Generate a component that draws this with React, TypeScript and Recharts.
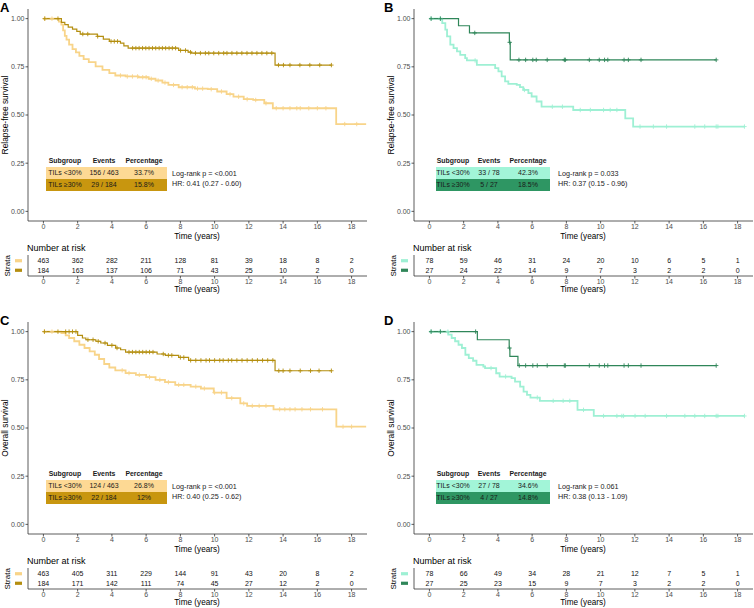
import { ComposedChart, ScatterChart, Line, Scatter, XAxis, YAxis } from 'recharts'

const TIME_TICKS = [0, 2, 4, 6, 8, 10, 12, 14, 16, 18]
const SURV_TICKS = [0, 0.25, 0.5, 0.75, 1]

// Panel A – relapse-free survival, TILs cohort 1
const A_lowT = [0, 0.9, 1.05, 1.15, 1.25, 1.35, 1.5, 1.7, 1.9, 2.1, 2.35, 2.65, 3.05, 3.45, 3.85, 4.2, 4.8, 5.55, 6.15, 6.55, 6.95, 7.3, 7.9, 8.85, 9.6, 10.15, 10.7, 11.1, 11.7, 12.25, 12.9, 13.4, 17.1, 18.85]
const A_lowS = [1, 0.985, 0.969, 0.939, 0.911, 0.891, 0.865, 0.842, 0.825, 0.807, 0.79, 0.774, 0.752, 0.734, 0.717, 0.705, 0.7, 0.696, 0.688, 0.679, 0.668, 0.656, 0.644, 0.637, 0.634, 0.622, 0.608, 0.595, 0.582, 0.578, 0.561, 0.535, 0.453, 0.453]
const A_lowCens = [0.08, 0.5, 4.5, 4.9, 5.2, 5.5, 5.8, 6.0, 6.3, 6.7, 7.1, 7.6, 8.1, 8.4, 8.7, 9.0, 9.3, 9.8, 10.4, 10.9, 11.4, 11.9, 12.4, 13.0, 13.6, 14.0, 14.4, 14.8, 15.0, 15.5, 16.0, 16.5, 17.6, 18.3]
const A_highT = [0, 1.05, 1.25, 1.45, 1.7, 1.95, 2.15, 3.15, 3.5, 3.85, 4.5, 4.7, 4.95, 7.9, 8.45, 8.65, 13.53, 16.82]
const A_highS = [1, 0.981, 0.969, 0.956, 0.946, 0.934, 0.92, 0.908, 0.894, 0.882, 0.873, 0.859, 0.847, 0.835, 0.826, 0.821, 0.759, 0.759]
const A_highCens = [0.08, 0.85, 2.3, 2.59, 3.17, 3.95, 4.14, 4.33, 5.21, 5.4, 5.59, 5.79, 5.98, 6.17, 6.37, 6.56, 6.76, 6.95, 7.14, 7.34, 7.53, 7.72, 8.01, 8.3, 8.59, 8.88, 9.17, 9.46, 9.66, 9.95, 10.24, 10.53, 10.72, 11.01, 11.3, 11.59, 11.89, 12.18, 12.47, 12.76, 13.05, 13.34, 13.73, 14.02, 14.4, 14.98, 15.56, 16.14, 16.82]
const A_riskLow = [463, 362, 282, 211, 128, 81, 39, 18, 8, 2]
const A_riskHigh = [184, 163, 137, 106, 71, 43, 25, 10, 2, 0]
const A_rowLow = ['TILs <30%', '156 / 463', '33.7%']
const A_rowHigh = ['TILs \u226530%', '29 / 184', '15.8%']
const A_stats = ['Log-rank p = <0.001', 'HR: 0.41 (0.27 - 0.60)']

// Panel B – relapse-free survival, cohort 2
const B_lowT = [0, 0.75, 0.93, 1.03, 1.22, 1.41, 1.61, 1.8, 2.09, 2.19, 2.77, 3.84, 4.03, 4.22, 4.42, 4.61, 5.1, 5.29, 5.48, 5.78, 5.97, 6.26, 6.55, 8.4, 11.44, 11.9, 18.4]
const B_lowS = [1, 0.977, 0.943, 0.908, 0.865, 0.847, 0.83, 0.812, 0.795, 0.783, 0.76, 0.743, 0.726, 0.7, 0.674, 0.662, 0.656, 0.645, 0.63, 0.613, 0.596, 0.57, 0.543, 0.526, 0.483, 0.44, 0.44]
const B_lowCens = [0.1, 0.64, 2.67, 5.55, 7.18, 7.77, 8.81, 9.4, 10.17, 10.56, 10.95, 12.3, 13.08, 13.85, 15.5, 16.08, 16.75, 16.85, 18.4]
const B_highT = [0, 1.7, 2.34, 4.67, 4.72, 16.75]
const B_highS = [1, 0.963, 0.926, 0.877, 0.786, 0.786]
const B_highCens = [0.1, 0.64, 2.65, 4.69, 5.23, 5.62, 6.04, 6.24, 6.88, 7.88, 7.94, 9.34, 9.92, 10.23, 10.42, 11.37, 11.62, 12.36, 16.75]
const B_riskLow = [78, 59, 46, 31, 24, 20, 10, 6, 5, 1]
const B_riskHigh = [27, 24, 22, 14, 9, 7, 3, 2, 2, 0]
const B_rowLow = ['TILs <30%', '33 / 78', '42.3%']
const B_rowHigh = ['TILs \u226530%', '5 / 27', '18.5%']
const B_stats = ['Log-rank p = 0.033', 'HR: 0.37 (0.15 - 0.96)']

// Panel C – overall survival, cohort 1
const C_lowT = [0, 1.05, 1.3, 1.5, 1.8, 2.1, 2.4, 2.7, 3.0, 3.25, 3.55, 3.85, 4.2, 4.8, 5.4, 6.0, 6.55, 7.1, 7.7, 8.6, 9.2, 9.95, 10.7, 11.5, 11.9, 13.44, 17.11, 18.85]
const C_lowS = [1, 0.993, 0.981, 0.967, 0.95, 0.932, 0.915, 0.898, 0.88, 0.858, 0.832, 0.814, 0.799, 0.785, 0.776, 0.764, 0.75, 0.738, 0.724, 0.715, 0.705, 0.684, 0.655, 0.628, 0.615, 0.597, 0.507, 0.507]
const C_lowCens = [0.06, 0.5, 4.6, 5.0, 5.6, 6.2, 6.8, 7.3, 7.9, 8.2, 8.9, 9.4, 10.0, 10.4, 11.0, 11.7, 12.2, 12.6, 13.0, 13.8, 14.1, 14.4, 14.7, 15.1, 15.6, 16.3, 17.5, 18.0]
const C_highT = [0, 2.0, 2.28, 2.48, 3.06, 3.35, 3.74, 4.22, 4.51, 4.8, 6.64, 7.12, 7.9, 8.48, 13.53, 16.82]
const C_highS = [1, 0.981, 0.967, 0.958, 0.95, 0.941, 0.929, 0.915, 0.906, 0.894, 0.884, 0.877, 0.866, 0.851, 0.797, 0.797]
const C_highCens = [0.06, 0.85, 1.3, 1.5, 1.7, 1.9, 2.6, 2.9, 3.2, 3.6, 4.0, 4.3, 5.0, 5.2, 5.4, 5.6, 5.8, 6.0, 6.2, 6.4, 7.0, 7.3, 7.5, 8.0, 8.2, 8.6, 8.9, 9.2, 9.5, 9.7, 10.0, 10.3, 10.5, 10.8, 11.0, 11.3, 11.6, 11.9, 12.2, 12.5, 12.8, 13.1, 13.4, 13.75, 14.0, 14.4, 15.0, 15.6, 16.1, 16.82]
const C_riskLow = [463, 405, 311, 229, 144, 91, 43, 20, 8, 2]
const C_riskHigh = [184, 171, 142, 111, 74, 45, 27, 12, 2, 0]
const C_rowLow = ['TILs <30%', '124 / 463', '26.8%']
const C_rowHigh = ['TILs \u226530%', '22 / 184', '12%']
const C_stats = ['Log-rank p = <0.001', 'HR: 0.40 (0.25 - 0.62)']

// Panel D – overall survival, cohort 2
const D_lowT = [0, 1.1, 1.3, 1.5, 1.7, 1.9, 2.1, 2.3, 2.55, 2.75, 3.15, 3.25, 3.9, 4.1, 4.8, 5.0, 5.3, 5.5, 5.7, 5.9, 6.45, 8.65, 9.6, 18.4]
const D_lowS = [1, 0.984, 0.967, 0.95, 0.932, 0.915, 0.88, 0.863, 0.849, 0.828, 0.819, 0.811, 0.784, 0.767, 0.759, 0.741, 0.715, 0.689, 0.672, 0.658, 0.641, 0.594, 0.5625, 0.5625]
const D_lowCens = [0.1, 0.64, 1.08, 3.6, 4.45, 6.3, 7.23, 7.81, 8.2, 9.0, 10.17, 10.95, 11.24, 11.34, 12.01, 12.6, 13.85, 14.92, 15.5, 16.08, 16.75, 16.85, 18.4]
const D_highT = [0, 2.8, 4.66, 4.7, 5.17, 16.75]
const D_highS = [1, 0.958, 0.915, 0.872, 0.824, 0.824]
const D_highCens = [0.1, 0.64, 2.7, 4.68, 5.25, 5.62, 6.04, 6.3, 6.88, 7.88, 7.94, 9.34, 9.92, 10.23, 10.42, 11.37, 11.62, 12.36, 16.75]
const D_riskLow = [78, 66, 49, 34, 28, 21, 12, 7, 5, 1]
const D_riskHigh = [27, 25, 23, 15, 9, 7, 3, 2, 2, 0]
const D_rowLow = ['TILs <30%', '27 / 78', '34.6%']
const D_rowHigh = ['TILs \u226530%', '4 / 27', '14.8%']
const D_stats = ['Log-rank p = 0.061', 'HR: 0.38 (0.13 - 1.09)']

const GOLD = { light: '#F8D489', dark: '#B48E10', lightBg: '#FDD994', darkBg: '#C8960F' }
const GREEN = { light: '#9EF0D4', dark: '#2F8659', lightBg: '#A2F5D8', darkBg: '#2E9663' }

const FONT = '"Liberation Sans", Arial, Helvetica, sans-serif'
const AXIS = '#333333'
const TICK_TXT = '#4d4d4d'

const toPoints = (T: number[], S: number[]) => T.map((t, i) => ({ t, s: S[i] }))
const censorPoints = (C: number[], T: number[], S: number[]) =>
  C.map((c) => {
    let i = 0
    while (i + 1 < T.length && T[i + 1] <= c) i++
    return { t: c, s: S[i] }
  })
const riskPoints = (row: number, counts: number[]) => TIME_TICKS.map((t, i) => ({ t, r: row, n: counts[i] }))

function CensorMark(props: any) {
  const { cx, cy, fill } = props
  if (cx == null || cy == null) return null
  return <path d={`M${cx - 2.2},${cy}H${cx + 2.2}M${cx},${cy - 2.2}V${cy + 2.2}`} stroke={fill} strokeWidth={0.9} fill="none" />
}

function RiskLabel(props: any) {
  const { cx, cy, payload } = props
  if (cx == null) return null
  return (
    <text x={cx} y={cy} dy="0.35em" textAnchor="middle" fontSize={7} fill="#111" fontFamily={FONT}>
      {payload.n}
    </text>
  )
}

function StrataTick(props: any) {
  const { y, payload, colors } = props
  const color = payload.value === 2 ? colors.light : colors.dark
  return <rect x={15} y={y - 1.6} width={7} height={3.2} fill={color} />
}

function Txt({ x, y, children, size = 8, align = 'left', bold = false, color = '#000', rotate = false }: any) {
  const w = 200
  const left = align === 'left' ? x : align === 'center' ? x - w / 2 : x - w
  return (
    <div
      style={{
        position: 'absolute',
        left,
        top: y - size * 0.6,
        width: w,
        height: size * 1.2,
        lineHeight: `${size * 1.2}px`,
        fontSize: size,
        fontWeight: bold ? 700 : 400,
        color,
        textAlign: align,
        whiteSpace: 'nowrap',
        transform: rotate ? 'rotate(-90deg)' : undefined,
      }}
    >
      {children}
    </div>
  )
}

function SummaryTable({ rows, colors, box }: any) {
  const { left, width, cols } = box
  const cell = (txt: string, i: number, y: number, bold = false) => (
    <Txt key={i} x={cols[i]} y={y} size={bold ? 6.9 : 7} align="center" bold={bold} color="#1a1a1a">
      {txt}
    </Txt>
  )
  return (
    <>
      {['Subgroup', 'Events', 'Percentage'].map((h, i) => cell(h, i, 161.5, true))}
      <div style={{ position: 'absolute', left, top: 167, width, height: 12, background: colors.lightBg }} />
      <div style={{ position: 'absolute', left, top: 179, width, height: 12, background: colors.darkBg }} />
      {rows[0].map((v: string, i: number) => cell(v, i, 173.5))}
      {rows[1].map((v: string, i: number) => cell(v, i, 185))}
    </>
  )
}

function Panel({ left, top, letter, yTitle, low, high, riskLow, riskHigh, rows, stats, colors, box }: any) {
  const lowLine = toPoints(low[0], low[1])
  const highLine = toPoints(high[0], high[1])
  const lowCens = censorPoints(low[2], low[0], low[1])
  const highCens = censorPoints(high[2], high[0], high[1])
  const axisProps = { stroke: AXIS, strokeWidth: 0.8 }
  return (
    <div style={{ position: 'absolute', left, top, width: 377, height: 313 }}>
      <Txt x={box.letterX} y={8} size={13} bold>
        {letter}
      </Txt>
      <div style={{ position: 'absolute', left: 0, top: 0 }}>
        <ComposedChart width={377} height={245} margin={{ top: 9, right: 10, left: 0, bottom: 0 }}>
          <XAxis
            type="number"
            dataKey="t"
            domain={[-0.9, 18.9]}
            ticks={TIME_TICKS}
            allowDataOverflow
            interval={0}
            height={24}
            tickSize={2.5}
            tickMargin={1}
            axisLine={axisProps}
            tickLine={axisProps}
            tick={{ fontSize: 7, fill: TICK_TXT, fontFamily: FONT }}
          />
          <YAxis
            type="number"
            dataKey="s"
            domain={[-0.05, 1.05]}
            ticks={SURV_TICKS}
            allowDataOverflow
            interval={0}
            width={28}
            tickSize={2.5}
            tickMargin={1}
            tickFormatter={(v: number) => v.toFixed(2)}
            axisLine={axisProps}
            tickLine={axisProps}
            tick={{ fontSize: 7, fill: TICK_TXT, fontFamily: FONT }}
          />
          <Line data={lowLine} dataKey="s" type="stepAfter" stroke={colors.light} strokeWidth={1.8} dot={false} isAnimationActive={false} />
          <Scatter data={lowCens} dataKey="s" fill={colors.light} shape={<CensorMark />} isAnimationActive={false} />
          <Line data={highLine} dataKey="s" type="stepAfter" stroke={colors.dark} strokeWidth={1.2} dot={false} isAnimationActive={false} />
          <Scatter data={highCens} dataKey="s" fill={colors.dark} shape={<CensorMark />} isAnimationActive={false} />
        </ComposedChart>
      </div>
      <Txt x={5} y={115} size={8.4} align="center" rotate>
        {yTitle}
      </Txt>
      <Txt x={197} y={237} size={8.2} align="center">
        Time (years)
      </Txt>
      <SummaryTable rows={rows} colors={colors} box={box} />
      <Txt x={172} y={174} size={7.2} color="#1a1a1a">
        {stats[0]}
      </Txt>
      <Txt x={172} y={184.5} size={7.2} color="#1a1a1a">
        {stats[1]}
      </Txt>

      <Txt x={27} y={248} size={9}>
        Number at risk
      </Txt>
      <div style={{ position: 'absolute', left: 0, top: 250 }}>
        <ScatterChart width={377} height={46} margin={{ top: 5, right: 10, left: 0, bottom: 0 }}>
          <XAxis
            type="number"
            dataKey="t"
            domain={[-0.9, 18.9]}
            ticks={TIME_TICKS}
            allowDataOverflow
            interval={0}
            height={20}
            tickSize={2.5}
            tickMargin={1}
            axisLine={axisProps}
            tickLine={axisProps}
            tick={{ fontSize: 7, fill: TICK_TXT, fontFamily: FONT }}
          />
          <YAxis
            type="number"
            dataKey="r"
            domain={[0.4, 2.6]}
            ticks={[1, 2]}
            allowDataOverflow
            interval={0}
            width={28}
            tickLine={false}
            axisLine={axisProps}
            tick={<StrataTick colors={colors} />}
          />
          <Scatter data={riskPoints(2, riskLow)} shape={<RiskLabel />} isAnimationActive={false} />
          <Scatter data={riskPoints(1, riskHigh)} shape={<RiskLabel />} isAnimationActive={false} />
        </ScatterChart>
      </div>
      <Txt x={8} y={266} size={8} align="center" rotate>
        Strata
      </Txt>
      <Txt x={197} y={290} size={8.2} align="center">
        Time (years)
      </Txt>
    </div>
  )
}

const BOX_WIDE = { left: 46, width: 121, cols: [65, 104, 144], letterX: 0 }
const BOX_NARROW = { left: 50, width: 114, cols: [67, 103, 142], letterX: -2 }

export default function App() {
  return (
    <div style={{ position: 'relative', width: 754, height: 608, overflow: 'hidden', background: '#fff', fontFamily: FONT }}>
      <style>{'body{margin:0}'}</style>
      <Panel
        left={0}
        top={0}
        letter="A"
        yTitle="Relapse-free survival"
        low={[A_lowT, A_lowS, A_lowCens]}
        high={[A_highT, A_highS, A_highCens]}
        riskLow={A_riskLow}
        riskHigh={A_riskHigh}
        rows={[A_rowLow, A_rowHigh]}
        stats={A_stats}
        colors={GOLD}
        box={BOX_WIDE}
      />
      <Panel
        left={386}
        top={0}
        letter="B"
        yTitle="Relapse-free survival"
        low={[B_lowT, B_lowS, B_lowCens]}
        high={[B_highT, B_highS, B_highCens]}
        riskLow={B_riskLow}
        riskHigh={B_riskHigh}
        rows={[B_rowLow, B_rowHigh]}
        stats={B_stats}
        colors={GREEN}
        box={BOX_NARROW}
      />
      <Panel
        left={0}
        top={313}
        letter="C"
        yTitle="Overall survival"
        low={[C_lowT, C_lowS, C_lowCens]}
        high={[C_highT, C_highS, C_highCens]}
        riskLow={C_riskLow}
        riskHigh={C_riskHigh}
        rows={[C_rowLow, C_rowHigh]}
        stats={C_stats}
        colors={GOLD}
        box={BOX_WIDE}
      />
      <Panel
        left={386}
        top={313}
        letter="D"
        yTitle="Overall survival"
        low={[D_lowT, D_lowS, D_lowCens]}
        high={[D_highT, D_highS, D_highCens]}
        riskLow={D_riskLow}
        riskHigh={D_riskHigh}
        rows={[D_rowLow, D_rowHigh]}
        stats={D_stats}
        colors={GREEN}
        box={BOX_NARROW}
      />
    </div>
  )
}
